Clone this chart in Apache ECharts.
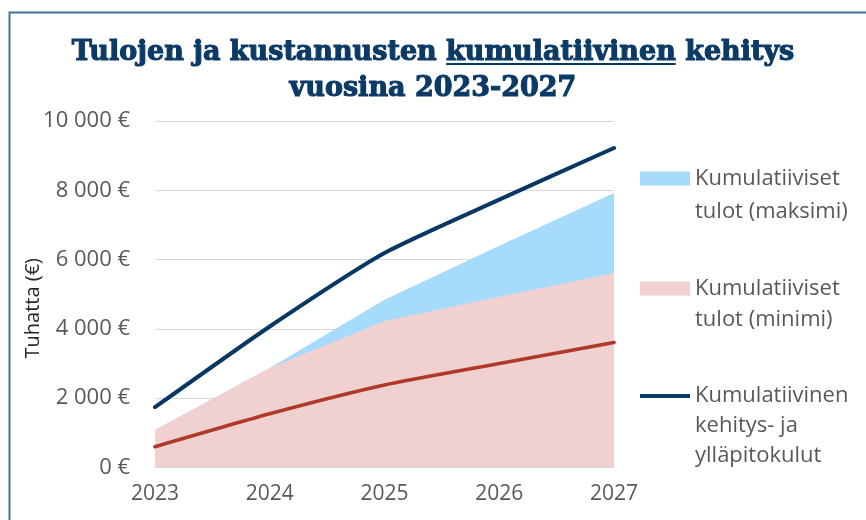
<!DOCTYPE html>
<html>
<head>
<meta charset="utf-8">
<script src="https://cdn.jsdelivr.net/npm/echarts@6/dist/echarts.min.js"></script>
<style>
  html, body { margin: 0; padding: 0; background: #fff; }
  #chart { width: 866px; height: 520px; }
</style>
</head>
<body>
<div id="chart"></div>
<script>
// data
var years = ['2023', '2024', '2025', '2026', '2027'];
var incomeMax = [1080, 2870, 4840, 6400, 7920];
var incomeMin = [1080, 2870, 4230, 4930, 5610];
var costs = [1740, 4070, 6190, 7730, 9220];
var costsLow = [600, 1550, 2380, 3000, 3610];
var yMin = 0, yMax = 10000, yStep = 2000;

var nameMax = 'Kumulatiiviset tulot (maksimi)';
var nameMin = 'Kumulatiiviset tulot (minimi)';
var nameCost = 'Kumulatiivinen kehitys- ja ylläpitokulut';
var legendText = {};
legendText[nameMax] = 'Kumulatiiviset\ntulot (maksimi)';
legendText[nameMin] = 'Kumulatiiviset\ntulot (minimi)';
legendText[nameCost] = 'Kumulatiivinen\nkehitys- ja\nylläpitokulut';

var font = 'Open Sans';
var navy = '#073763';

function euro(v) {
    return String(v).replace(/\B(?=(\d{3})+(?!\d))/g, ' ') + ' €';
}

// icon = bar at the top of a taller invisible box, so it lines up with the first text line
function legendFor(name, top, barH, lineH, lines) {
    var boxH = barH + (lines - 1) * lineH;
    return {
        data: [{ name: name, icon: 'path://M0,0L50,0L50,' + barH + 'L0,' + barH + 'Z M0,' + boxH + 'L0,' + boxH }],
        orient: 'vertical',
        left: 640,
        top: top,
        padding: 0,
        itemWidth: 50,
        itemHeight: boxH,
        selectedMode: false,
        formatter: function (n) { return legendText[n]; },
        textStyle: { fontFamily: font, fontSize: 22, color: '#595959', lineHeight: lineH }
    };
}

var myChart = echarts.init(document.getElementById('chart'));

var underline = new echarts.graphic.LinearGradient(0, 0, 0, 1, [
    { offset: 0, color: 'rgba(0,0,0,0)' },
    { offset: 0.88, color: 'rgba(0,0,0,0)' },
    { offset: 0.88, color: navy },
    { offset: 0.93, color: navy },
    { offset: 0.93, color: 'rgba(0,0,0,0)' },
    { offset: 1, color: 'rgba(0,0,0,0)' }
]);

var titleFont = {
    fontFamily: 'DejaVu Serif', fontWeight: 'bold', fontSize: 27, color: '#0b3a66', lineHeight: 36,
    textBorderColor: '#0b3a66', textBorderWidth: 1.1
};

option = {
    animation: false,
    graphic: [{
        type: 'rect', left: 7, top: 10, z: -10,
        shape: { width: 900, height: 600 },
        style: { fill: null, stroke: '#44709a', lineWidth: 2 }
    }],
    title: {
        text: 'Tulojen ja kustannusten {u|kumulatiivinen} kehitys\nvuosina 2023-2027',
        left: 'center',
        top: 30,
        textStyle: Object.assign({ rich: { u: Object.assign({ backgroundColor: underline }, titleFont) } }, titleFont)
    },
    legend: [
        legendFor(nameMax, 162, 14, 33, 2),
        legendFor(nameMin, 273, 14, 31, 2),
        legendFor(nameCost, 381, 4, 30, 3)
    ],
    grid: { left: 155, right: 252, top: 121, bottom: 52.5 },
    xAxis: {
        type: 'category',
        data: years,
        boundaryGap: false,
        axisLine: { lineStyle: { color: '#d9d9d9' } },
        axisTick: { show: false },
        axisLabel: { fontFamily: font, fontSize: 21, color: '#595959', margin: 16 }
    },
    yAxis: {
        type: 'value',
        min: yMin, max: yMax, interval: yStep,
        name: 'Tuhatta (€)',
        nameLocation: 'middle',
        nameRotate: 90,
        nameGap: 112,
        nameMoveOverlap: false,
        nameTextStyle: { fontFamily: font, fontSize: 20, color: '#262626', padding: [0, 28, 0, 0] },
        axisLabel: { fontFamily: font, fontSize: 22, color: '#595959', margin: 25, formatter: euro },
        splitLine: { lineStyle: { color: '#d9d9d9', width: 1 } }
    },
    series: [
        {
            name: nameMax, type: 'line', data: incomeMax,
            showSymbol: false, lineStyle: { width: 0 },
            itemStyle: { color: '#a6dbfc' },
            areaStyle: { color: '#a6dbfc', opacity: 1 }
        },
        {
            name: nameMin, type: 'line', data: incomeMin,
            showSymbol: false, lineStyle: { width: 0 },
            itemStyle: { color: '#f0d1cf' },
            areaStyle: { color: '#f0d1cf', opacity: 1 }
        },
        {
            name: 'Kulut (minimi)', type: 'line', data: costsLow,
            showSymbol: false, smooth: 0.2,
            lineStyle: { width: 3.5, color: '#b0392a', cap: 'round' },
            itemStyle: { color: '#b0392a' }
        },
        {
            name: nameCost, type: 'line', data: costs,
            showSymbol: false, smooth: 0.2,
            lineStyle: { width: 4, color: navy, cap: 'round' },
            itemStyle: { color: navy }
        }
    ]
};

myChart.setOption(option);
</script>
</body>
</html>
